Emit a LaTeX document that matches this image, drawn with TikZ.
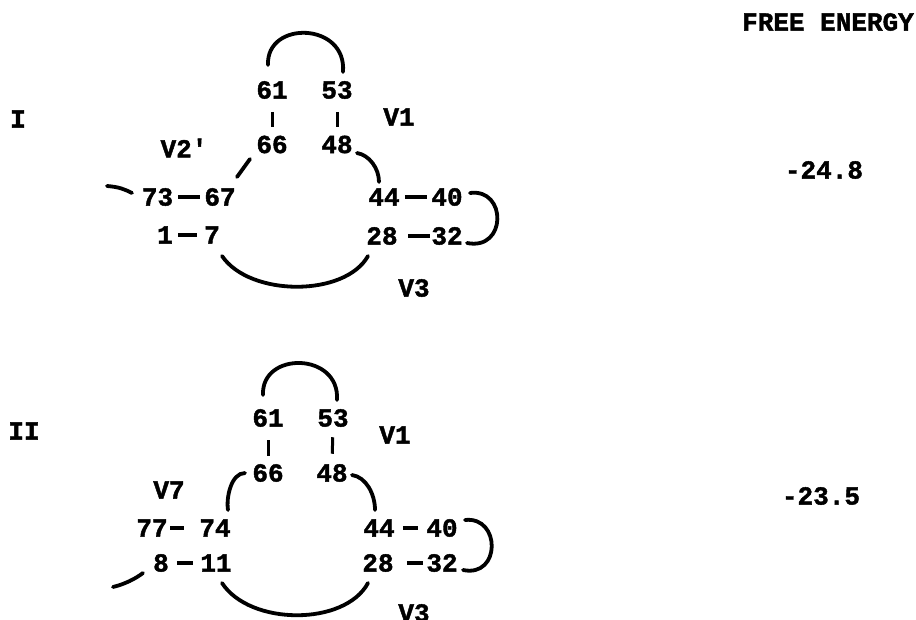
\documentclass[tikz,border=0pt]{standalone}
\usepackage{fontspec}
\newfontfamily\typewriter{Liberation Mono}[BoldFeatures={FakeBold=1.6}]
\usetikzlibrary{calc}
\tikzset{
  txt/.style={font=\typewriter\bfseries\fontsize{26}{26}\selectfont, inner sep=0pt},
  arcline/.style={line width=3.8pt, line cap=round},
  bar/.style={line width=3.6pt},
  tick/.style={line width=3pt}
}
\begin{document}
\begin{tikzpicture}[x=1pt,y=-1pt]
\useasboundingbox (0,0) rectangle (916,620);

% heading and energies
\node[txt] (head) at (828,22) {FREE ENERGY};
\node[txt] (e1) at (824,170) {-24.8};
\node[txt] (e2) at (821,496) {-23.5};

% ---------------- structure I ----------------
\node[txt] (r1) at (18,119) {I};
\node[txt] (a61) at (272,90) {61};
\node[txt] (a53) at (337,90) {53};
\node[txt] (a66) at (272,144.5) {66};
\node[txt] (a48) at (337,144.5) {48};
\node[txt] (a73) at (157.5,197) {73};
\node[txt] (a67) at (220,197) {67};
\node[txt] (a1) at (165,235) {1};
\node[txt] (a7) at (212,235) {7};
\node[txt] (a44) at (384,197) {44};
\node[txt] (a40) at (447,197) {40};
\node[txt] (a28) at (382,236) {28};
\node[txt] (a32) at (447,236) {32};
\node[txt] (av1) at (399,117) {V1};
\node[txt] (av2) at (184,148) {V2'};
\node[txt] (av3) at (414,288) {V3};

% stems and pairings
\draw[tick] ($(a61)!.4!(a66)$) -- ($(a61)!.68!(a66)$);
\draw[tick] ($(a53)!.4!(a48)$) -- ($(a53)!.68!(a48)$);
\draw[bar] ($(a73)!.33!(a67)$) -- ($(a73)!.68!(a67)$);
\draw[bar] ($(a1)!.28!(a7)$) -- ($(a1)!.68!(a7)$);
\draw[bar] ($(a44)!.33!(a40)$) -- ($(a44)!.68!(a40)$);
\draw[bar] ($(a28)!.4!(a32)$) -- ($(a28)!.74!(a32)$);

% loops
\draw[arcline] ($(a61)+(-4,-25)$) .. controls +(-2,-45) and +(4,-50) .. ($(a53)+(6,-18)$);
\draw[arcline] ($(a66)+(-22,14.5)$) -- ($(a67)+(17,-20)$);
\draw[arcline] ($(a48)+(20,8.5)$) .. controls +(12,2) and +(0,-14) .. ($(a44)+(-5,-15)$);
\coordinate (a5end) at ($(a73)+(-50.5,-11)$);
\draw[arcline] (a5end) .. controls +(12,1) and +(-8,-4) .. ($(a73)+(-25.5,-4)$);
\draw[arcline] ($(a40)+(23,-4)$) .. controls +(37,-5) and +(40,8) .. ($(a32)+(20,7)$);
\draw[arcline] ($(a7)+(10,21)$) .. controls +(28,41) and +(-23,41) .. ($(a28)+(-14,20)$);

% ---------------- structure II ----------------
\node[txt] (r2) at (24,431) {II};
\node[txt] (b61) at (268,418) {61};
\node[txt] (b53) at (333,418) {53};
\node[txt] (b66) at (268,473) {66};
\node[txt] (b48) at (332,473) {48};
\node[txt] (b77) at (152,528) {77};
\node[txt] (b74) at (215,528) {74};
\node[txt] (b8) at (161,563) {8};
\node[txt] (b11) at (216,563) {11};
\node[txt] (b44) at (379,528) {44};
\node[txt] (b40) at (442,528) {40};
\node[txt] (b28) at (378,563) {28};
\node[txt] (b32) at (442,563) {32};
\node[txt] (bv1) at (395,435) {V1};
\node[txt] (bv7) at (169,490) {V7};
\node[txt] (bv3) at (414,613) {V3};

% stems and pairings
\draw[tick] ($(b61)!.4!(b66)$) -- ($(b61)!.69!(b66)$);
\draw[tick] ($(b53)!.35!(b48)$) -- ($(b53)!.65!(b48)$);
\draw[bar] ($(b77)!.29!(b74)$) -- ($(b77)!.5!(b74)$);
\draw[bar] ($(b8)!.29!(b11)$) -- ($(b8)!.58!(b11)$);
\draw[bar] ($(b44)!.38!(b40)$) -- ($(b44)!.62!(b40)$);
\draw[bar] ($(b28)!.45!(b32)$) -- ($(b28)!.7!(b32)$);

% loops
\draw[arcline] ($(b61)+(-5,-23)$) .. controls +(-2,-44) and +(3,-48) .. ($(b53)+(4,-18)$);
\draw[arcline] ($(b66)+(-23,0)$) .. controls +(-14,0) and +(-2,-12) .. ($(b74)+(13,-18)$);
\draw[arcline] ($(b48)+(20,2)$) .. controls +(14,2) and +(0,-16) .. ($(b44)+(-4,-18)$);
\draw[arcline] ($(b40)+(23,-8)$) .. controls +(36,-4) and +(38,8) .. ($(b32)+(21,7)$);
\draw[arcline] ($(b11)+(6,20)$) .. controls +(28,43) and +(-23,43) .. ($(b28)+(-10,20)$);
\coordinate (b5end) at ($(b8)+(-48,24)$);
\draw[arcline] (b5end) .. controls +(12,-3) and +(-8,6) .. ($(b8)+(-18,10)$);
\end{tikzpicture}
\end{document}
